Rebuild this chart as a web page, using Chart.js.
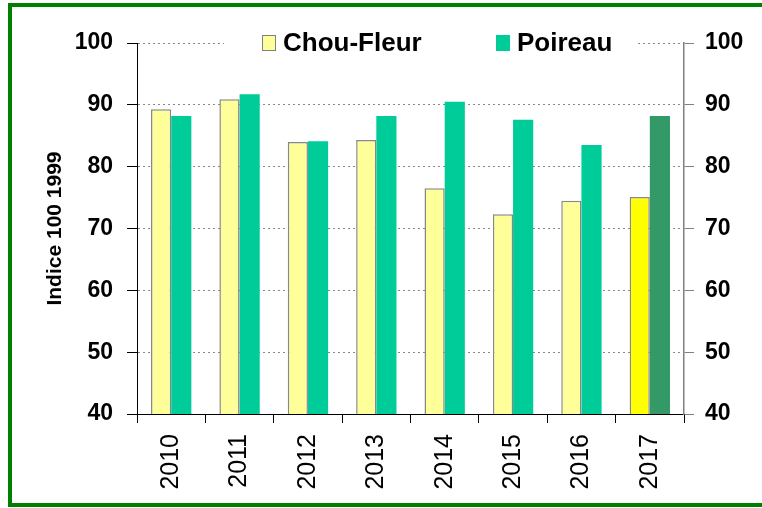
<!DOCTYPE html>
<html>
<head>
<meta charset="utf-8">
<script src="https://cdn.jsdelivr.net/npm/chart.js@4"></script>
<style>
html,body{margin:0;padding:0;background:#fff;overflow:hidden;width:762px;height:508px;}
#frame{position:absolute;left:8px;top:3px;width:900px;height:504px;box-sizing:border-box;border:4px solid #008000;}
#c{position:absolute;left:0;top:0;}
</style>
</head>
<body>
<div id="frame"></div>
<canvas id="c" width="762" height="508"></canvas>
<script>
const years = ['2010','2011','2012','2013','2014','2015','2016','2017'];
const chouFleur = [89.3, 90.9, 84.0, 84.3, 76.5, 72.3, 74.5, 75.1];
const poireau = [88.2, 91.7, 84.1, 88.2, 90.5, 87.6, 83.5, 88.2];
const yTicks = [40, 50, 60, 70, 80, 90, 100];
const seriesNames = ['Chou-Fleur', 'Poireau'];

const FONT = '"Liberation Sans", Arial, sans-serif';
const chouColors = years.map((y, i) => i === years.length - 1 ? '#FFFF00' : '#FFFF99');
const poireauColors = years.map((y, i) => i === years.length - 1 ? '#339966' : '#00CC99');

const legendPlugin = {
  id: 'insideLegend',
  afterDatasetsDraw(chart) {
    const ctx = chart.ctx;
    ctx.save();
    ctx.fillStyle = '#ffffff';
    ctx.fillRect(224, 28, 413, 30);
    const items = [
      {x: 262, fill: '#FFFF99', stroke: '#808080', text: chart.data.datasets[0].label},
      {x: 496, fill: '#00CC99', stroke: null, text: chart.data.datasets[1].label}
    ];
    ctx.font = 'bold 26px ' + FONT;
    ctx.textBaseline = 'middle';
    items.forEach(it => {
      ctx.fillStyle = it.fill;
      ctx.fillRect(it.x, 35, 14, 16);
      if (it.stroke) {
        ctx.strokeStyle = it.stroke;
        ctx.lineWidth = 1;
        ctx.strokeRect(it.x + 0.5, 35.5, 13, 15);
      }
      ctx.fillStyle = '#000';
      ctx.fillText(it.text, it.x + 21, 44);
    });
    ctx.restore();
  }
};

new Chart(document.getElementById('c'), {
  type: 'bar',
  data: {
    labels: years,
    datasets: [
      {label: seriesNames[0], data: chouFleur, backgroundColor: chouColors, borderColor: '#888888', borderWidth: 1.5, yAxisID: 'y'},
      {label: seriesNames[1], data: poireau, backgroundColor: poireauColors, borderWidth: 0, yAxisID: 'y'}
    ]
  },
  options: {
    responsive: false,
    animation: false,
    devicePixelRatio: 1,
    layout: {padding: {left: 0, right: 0, top: 43, bottom: 0}},
    datasets: {bar: {categoryPercentage: 0.59, barPercentage: 1.0}},
    plugins: {legend: {display: false}, tooltip: {enabled: false}},
    scales: {
      x: {
        offset: true,
        grid: {offset: true, drawOnChartArea: false, tickLength: 9, color: '#000', tickColor: '#000'},
        border: {color: '#000', width: 1},
        ticks: {color: '#000', font: {family: FONT, size: 25}, minRotation: 90, maxRotation: 90, padding: 11},
        afterFit(s) { s.height = 94; }
      },
      y: {
        position: 'left',
        min: 40, max: 100,
        afterBuildTicks(s) { s.ticks = yTicks.map(v => ({value: v})); },
        grid: {color: '#888888', lineWidth: 1, tickLength: 10, tickColor: '#000', tickBorderDash: [], drawTicks: true},
        border: {color: '#000', width: 1, dash: [2, 3]},
        ticks: {color: '#000', font: {family: FONT, size: 23, weight: 'bold'}, padding: 14},
        title: {display: true, text: 'Indice 100 1999', color: '#000', font: {family: FONT, size: 21, weight: 'bold'}, padding: {top: 43, bottom: 0}},
        afterFit(s) { s.width = 137; }
      },
      y2: {
        position: 'right',
        min: 40, max: 100,
        afterBuildTicks(s) { s.ticks = yTicks.map(v => ({value: v})); },
        grid: {drawOnChartArea: false, tickLength: 10, tickColor: '#808080', color: '#808080'},
        border: {color: '#808080', width: 1.5},
        ticks: {color: '#000', font: {family: FONT, size: 23, weight: 'bold'}, padding: 11},
        afterFit(s) { s.width = 78; }
      }
    }
  },
  plugins: [legendPlugin]
});
</script>
</body>
</html>
